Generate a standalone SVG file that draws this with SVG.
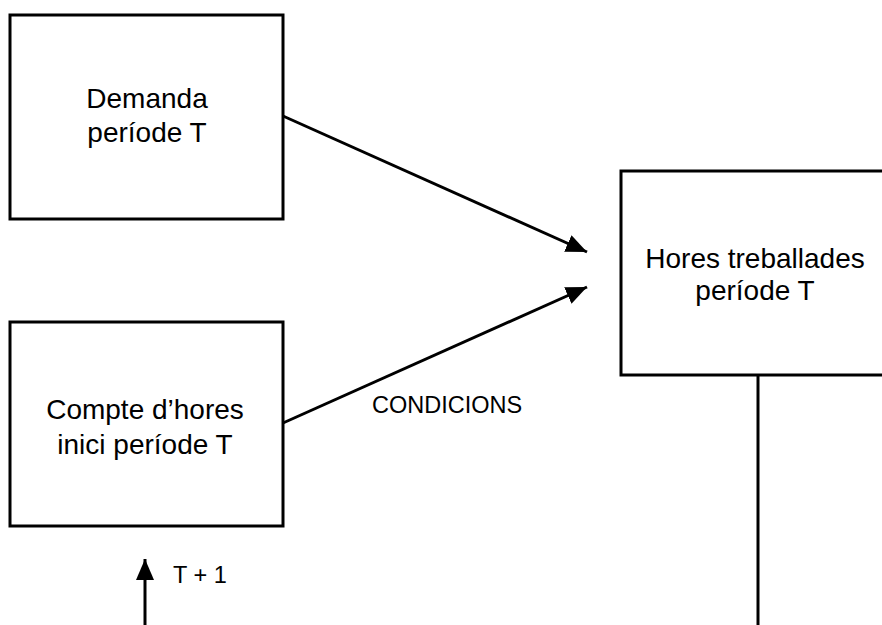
<svg xmlns="http://www.w3.org/2000/svg" width="882" height="625" viewBox="0 0 882 625">
<style>
.box{fill:#fff;stroke:#000;stroke-width:3}
.t{font-family:"Liberation Sans",Arial,sans-serif;font-size:28px;fill:#000;text-anchor:middle}
.s{font-family:"Liberation Sans",Arial,sans-serif;font-size:23.5px;fill:#000}
.c{stroke:#000;stroke-width:3;fill:none}
</style>
<defs>
<marker id="ah" markerUnits="userSpaceOnUse" markerWidth="24" markerHeight="20" refX="21" refY="9" orient="auto">
<path d="M0,0 L21,9 L0,18 z" fill="#000"/>
</marker>
</defs>
<rect width="882" height="625" fill="#fff"/>
<g id="connectors">
<line class="c" x1="283" y1="116" x2="587" y2="252" marker-end="url(#ah)"/>
<line class="c" x1="283" y1="423" x2="587" y2="287" marker-end="url(#ah)"/>
<line class="c" x1="758" y1="375" x2="758" y2="625"/>
<line class="c" x1="145" y1="625" x2="145" y2="559" marker-end="url(#ah)"/>
</g>
<g id="demanda">
<rect class="box" x="10" y="15" width="273" height="204"/>
<text class="t" x="147" y="108">Demanda</text>
<text class="t" x="147" y="142">període T</text>
</g>
<g id="compte">
<rect class="box" x="10" y="322" width="273" height="204"/>
<text class="t" x="145" y="419">Compte d’hores</text>
<text class="t" x="145" y="454">inici període T</text>
</g>
<g id="hores">
<rect class="box" x="621" y="171" width="268" height="204"/>
<text class="t" x="755" y="268">Hores treballades</text>
<text class="t" x="755" y="300">període T</text>
</g>
<g id="labels">
<text class="s" x="372" y="413">CONDICIONS</text>
<text class="s" x="173" y="583">T + 1</text>
</g>
</svg>
